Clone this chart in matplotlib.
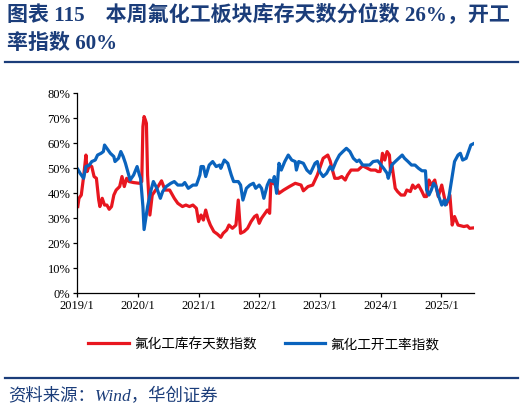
import pandas as pd
import matplotlib
matplotlib.use("Agg")
import matplotlib.pyplot as plt
import matplotlib.dates as mdates
from matplotlib.lines import Line2D
from matplotlib.ticker import FuncFormatter

plt.rcParams['font.family'] = ['Liberation Serif', 'Noto Sans CJK SC', 'DejaVu Sans']

# 氟化工库存天数指数
inv_dates = ['2019-01-04', '2019-01-11', '2019-01-25', '2019-02-08', '2019-02-22', '2019-03-01',
             '2019-03-15', '2019-03-29', '2019-04-12', '2019-04-26', '2019-05-10', '2019-05-17',
             '2019-05-31', '2019-06-14', '2019-06-28', '2019-07-12', '2019-07-26', '2019-08-09',
             '2019-08-23', '2019-09-13', '2019-09-27', '2019-10-11', '2019-10-25', '2019-11-08',
             '2019-12-06', '2020-01-10', '2020-01-24', '2020-01-31', '2020-02-07', '2020-02-14',
             '2020-02-21', '2020-02-28', '2020-03-13', '2020-03-27', '2020-05-01', '2020-05-22',
             '2020-06-12', '2020-07-10', '2020-08-07', '2020-08-28', '2020-09-25', '2020-10-16',
             '2020-11-06', '2020-11-27', '2020-12-18', '2020-12-31', '2021-01-15', '2021-01-29',
             '2021-02-12', '2021-02-26', '2021-03-12', '2021-04-02', '2021-04-23', '2021-05-14',
             '2021-05-28', '2021-06-18', '2021-07-02', '2021-07-23', '2021-08-13', '2021-08-27',
             '2021-09-10', '2021-10-01', '2021-10-22', '2021-11-12', '2021-12-03', '2021-12-17',
             '2021-12-31', '2022-01-14', '2022-01-28', '2022-02-18', '2022-03-04', '2022-03-11',
             '2022-04-01', '2022-04-29', '2022-05-27', '2022-07-01', '2022-08-05', '2022-09-09',
             '2022-09-23', '2022-10-21', '2022-11-18', '2022-12-02', '2022-12-16', '2023-01-20',
             '2023-02-17', '2023-03-03', '2023-03-17', '2023-03-31', '2023-04-21', '2023-05-12',
             '2023-06-02', '2023-06-16', '2023-07-07', '2023-08-18', '2023-09-15', '2023-10-13',
             '2023-11-03', '2023-12-01', '2023-12-15', '2023-12-29', '2024-01-12', '2024-01-26',
             '2024-02-09', '2024-02-23', '2024-03-01', '2024-03-08', '2024-03-29', '2024-04-12',
             '2024-05-03', '2024-05-24', '2024-06-07', '2024-06-28', '2024-07-12', '2024-07-26',
             '2024-08-16', '2024-09-06', '2024-09-20', '2024-10-04', '2024-10-18', '2024-11-01',
             '2024-11-22', '2024-12-13', '2025-01-03', '2025-01-24', '2025-01-31', '2025-02-21',
             '2025-03-07', '2025-03-21', '2025-04-11', '2025-05-16', '2025-06-06', '2025-06-20',
             '2025-07-18']
inv_vals = [34.7, 38.0, 39.3, 46.7, 55.3, 48.7,
            51.3, 50.7, 46.7, 46.0, 37.3, 34.7,
            38.0, 35.3, 35.3, 33.6, 34.7, 39.3,
            41.3, 42.7, 46.7, 42.7, 46.0, 44.7,
            44.3, 44.0, 44.7, 66.7, 70.7, 69.5,
            68.0, 47.3, 31.3, 39.3, 42.7, 45.0,
            41.3, 41.3, 38.0, 36.0, 34.7, 35.3,
            34.7, 35.3, 34.0, 28.7, 31.3, 29.3,
            33.3, 29.7, 27.3, 24.7, 23.7, 22.4,
            24.0, 25.3, 27.3, 26.0, 27.3, 37.3,
            24.0, 24.7, 26.0, 28.7, 30.7, 31.3,
            28.0, 30.0, 31.3, 33.3, 32.0, 44.0,
            44.0, 40.0, 41.3, 42.7, 44.0, 43.3,
            41.0, 42.7, 43.3, 45.3, 47.3, 54.0,
            55.3, 53.0, 49.3, 46.0, 46.0, 46.7,
            45.3, 47.3, 49.3, 49.3, 51.0, 50.0,
            49.3, 49.3, 48.7, 48.7, 56.0, 53.3,
            56.7, 55.3, 48.7, 52.0, 42.0, 40.7,
            39.3, 39.3, 41.3, 40.7, 43.3, 42.0,
            43.3, 40.7, 38.7, 38.7, 45.3, 43.3,
            45.3, 38.7, 43.3, 36.7, 35.5, 39.3,
            27.3, 30.7, 27.3, 26.7, 27.0, 26.0,
            26.2]

# 氟化工开工率指数
op_dates = ['2019-01-04', '2019-01-18', '2019-02-08', '2019-02-22', '2019-03-15', '2019-03-29',
            '2019-04-19', '2019-05-03', '2019-05-24', '2019-06-07', '2019-06-14', '2019-06-28',
            '2019-07-19', '2019-08-09', '2019-08-16', '2019-09-06', '2019-09-20', '2019-10-04',
            '2019-10-18', '2019-11-01', '2019-11-15', '2019-12-06', '2019-12-27', '2020-01-10',
            '2020-01-17', '2020-01-31', '2020-02-07', '2020-02-28', '2020-03-20', '2020-04-03',
            '2020-04-24', '2020-05-15', '2020-05-29', '2020-06-19', '2020-07-17', '2020-08-07',
            '2020-08-28', '2020-09-25', '2020-10-09', '2020-10-30', '2020-11-27', '2020-12-18',
            '2021-01-08', '2021-01-15', '2021-01-29', '2021-02-12', '2021-03-05', '2021-03-26',
            '2021-04-16', '2021-05-07', '2021-05-14', '2021-06-04', '2021-06-25', '2021-07-16',
            '2021-07-30', '2021-08-27', '2021-09-10', '2021-09-24', '2021-10-15', '2021-11-05',
            '2021-11-26', '2021-12-10', '2021-12-31', '2022-01-14', '2022-01-28', '2022-02-18',
            '2022-03-04', '2022-03-25', '2022-04-01', '2022-04-15', '2022-04-29', '2022-05-13',
            '2022-06-03', '2022-06-24', '2022-07-15', '2022-08-05', '2022-08-12', '2022-08-26',
            '2022-09-23', '2022-10-14', '2022-11-04', '2022-11-18', '2022-12-02', '2022-12-16',
            '2022-12-30', '2023-01-20', '2023-02-10', '2023-03-03', '2023-03-17', '2023-04-07',
            '2023-04-28', '2023-05-19', '2023-06-09', '2023-06-30', '2023-07-21', '2023-08-11',
            '2023-08-25', '2023-09-15', '2023-10-27', '2023-11-17', '2023-12-15', '2024-01-19',
            '2024-02-09', '2024-02-16', '2024-03-08', '2024-03-29', '2024-04-19', '2024-05-10',
            '2024-05-24', '2024-06-14', '2024-07-05', '2024-07-26', '2024-08-16', '2024-09-06',
            '2024-09-27', '2024-10-04', '2024-10-18', '2024-11-01', '2024-11-15', '2024-11-29',
            '2024-12-13', '2025-01-03', '2025-01-17', '2025-01-24', '2025-02-14', '2025-03-07',
            '2025-03-21', '2025-04-11', '2025-04-25', '2025-05-09', '2025-05-30', '2025-06-13',
            '2025-06-27', '2025-07-18']
op_vals = [49.6, 48.0, 46.0, 50.7, 51.3, 52.7,
           53.3, 55.3, 56.0, 56.7, 59.3, 58.0,
           56.0, 54.7, 52.7, 54.0, 56.7, 54.7,
           52.0, 48.7, 45.3, 47.3, 50.7, 47.3,
           46.0, 34.7, 25.5, 34.7, 41.3, 44.7,
           42.0, 38.0, 40.7, 42.7, 44.0, 44.7,
           43.3, 43.3, 44.3, 42.0, 43.3, 43.3,
           47.3, 50.7, 50.7, 46.7, 51.3, 52.7,
           50.7, 51.3, 50.0, 53.3, 52.0, 47.3,
           44.7, 44.7, 43.3, 37.3, 42.0, 43.3,
           44.0, 42.0, 43.3, 42.0, 38.0, 43.3,
           45.3, 44.7, 46.7, 40.0, 52.0, 49.3,
           52.7, 55.3, 53.3, 52.7, 49.3, 52.7,
           52.0, 49.3, 48.0, 50.0, 52.0, 52.7,
           48.7, 46.7, 48.0, 50.7, 49.3, 52.7,
           55.3, 56.7, 58.0, 56.7, 54.0, 52.7,
           53.3, 51.3, 51.3, 52.7, 53.0, 50.0,
           48.0, 46.0, 51.3, 52.7, 54.0, 55.3,
           54.0, 52.7, 51.3, 51.3, 50.0, 49.0,
           49.0, 41.3, 39.3, 41.3, 44.0, 42.7,
           39.3, 35.3, 37.3, 35.3, 38.0, 46.7,
           52.7, 55.3, 56.0, 53.3, 54.0, 56.7,
           59.3, 60.0]

inv_label = '氟化工库存天数指数'
op_label = '氟化工开工率指数'
title_1 = '图表 115\u3000本周氟化工板块库存天数分位数 26%，开工'
title_2 = '率指数 60%'
source = '资料来源：Wind，华创证券'

navy = '#1b3d7a'
red = '#e8161f'
blue = '#0a63bd'

W, H = 524, 411
fig = plt.figure(figsize=(W / 100, H / 100), dpi=100)
ax = fig.add_axes([77.3 / W, 1 - 293.3 / H, (474.3 - 77.3) / W, 200 / H])

ax.plot(pd.to_datetime(inv_dates), [v / 100 for v in inv_vals], color=red, lw=2.3, label=inv_label)
ax.plot(pd.to_datetime(op_dates), [v / 100 for v in op_vals], color=blue, lw=2.3, label=op_label)

ax.set_ylim(0, 0.8)
ax.set_yticks([i / 10 for i in range(9)])
ax.yaxis.set_major_formatter(FuncFormatter(lambda v, p: f'{v * 100:.0f}%'))
ax.set_xlim(pd.Timestamp('2019-01-01'), pd.Timestamp(op_dates[-1]))
ax.xaxis.set_major_locator(mdates.YearLocator())
ax.xaxis.set_major_formatter(FuncFormatter(lambda v, p: f'{mdates.num2date(v).year}/1'))
for s in ['top', 'right']:
    ax.spines[s].set_visible(False)
for s in ['left', 'bottom']:
    ax.spines[s].set_linewidth(0.9)
ax.tick_params(labelsize=9, length=3, width=0.9, pad=2)

fig.legend(loc='center', bbox_to_anchor=(0.504, 1 - 344 / H), ncol=2, frameon=False,
           handlelength=3.0, handletextpad=0.4, columnspacing=2.0,
           prop={'family': ['Noto Sans CJK SC'], 'size': 9.8})

fig.text(7 / W, 1 - 5 / H, title_1, color=navy, fontsize=15.1, fontweight='bold', va='top', ha='left')
fig.text(7 / W, 1 - 34 / H, title_2, color=navy, fontsize=15.1, fontweight='bold', va='top', ha='left')
fig.add_artist(Line2D([5 / W, 518 / W], [1 - 62.5 / H] * 2, color=navy, lw=1.6))
fig.add_artist(Line2D([5 / W, 518 / W], [1 - 378 / H] * 2, color=navy, lw=1.6))
fig.text(8 / W, 1 - 397 / H, source, color=navy, fontsize=12.5, style='italic', va='center', ha='left')

fig.savefig('out.png', dpi=100)
